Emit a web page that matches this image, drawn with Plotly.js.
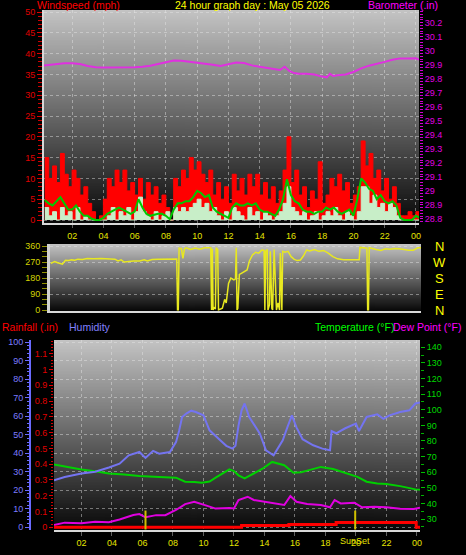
<!DOCTYPE html>
<html><head><meta charset="utf-8">
<script src="https://cdn.plot.ly/plotly-3.0.1.min.js"></script>
<style>html,body{margin:0;padding:0;background:#000;}#chart{width:466px;height:555px;}</style>
</head><body><div id="chart"></div>
<script>
// ---------- DATA ----------
const hourTicks  = [2,4,6,8,10,12,14,16,18,20,22,24];
const hourLabels = ['02','04','06','08','10','12','14','16','18','20','22','00'];

const windTime = [0.25,0.5,0.75,1,1.25,1.5,1.75,2,2.25,2.5,2.75,3,3.25,3.5,3.75,4,4.25,4.5,4.75,5,5.25,5.5,5.75,6,6.25,6.5,6.75,7,7.25,7.5,7.75,8,8.25,8.5,8.75,9,9.25,9.5,9.75,10,10.25,10.5,10.75,11,11.25,11.5,11.75,12,12.25,12.5,12.75,13,13.25,13.5,13.75,14,14.25,14.5,14.75,15,15.25,15.5,15.75,16,16.25,16.5,16.75,17,17.25,17.5,17.75,18,18.25,18.5,18.75,19,19.25,19.5,19.75,20,20.25,20.5,20.75,21,21.25,21.5,21.75,22,22.25,22.5,22.75,23,23.25,23.5,23.75,24,24.25];
const windGust = [15,10,13,9, 16,11,8,12, 10,6,8,4, 2,0,1,5, 10,8,12,9, 12,7,9,6, 10,5,9,6, 8,4,6,3, 0,10,8,12, 10,15,12,14, 11,9,12,6, 9,5,8,4, 11,7,10,6, 11,8,11,6, 9,5,8,4, 7,12,20,9, 12,6,8,3, 7,5,14,4, 6,10,8,11, 7,9,4,6, 8,19,13,16, 10,12,7,10, 5,8,4,1, 1,2,1,2, 3];
const windAvg  = [4.8,4.0,3.5,4.5, 5.5,4.0,2.5,2.5, 3.5,2.0,1.0,1.0, 0.3,0,0,0.5, 1.5,2.0,2.5,3.0, 2.5,2.0,1.5,2.0, 5.0,3.0,1.5,1.0, 1.2,1.5,1.5,1.0, 0.2,2.5,4.0,4.0, 4.5,4.5,5.5,7.0, 6.5,5.5,6.0,3.0, 2.0,1.5,1.0,0.5, 3.0,4.0,3.5,3.5, 4.0,3.5,4.0,2.5, 2.0,2.0,1.5,1.0, 2.5,5.0,9.8,6.0, 4.5,4.0,2.5,2.0, 2.0,1.5,2.0,2.0, 3.0,2.5,3.0,2.0, 1.5,2.0,2.5,1.0, 5.0,10.0,9.0,7.5, 7.0,5.0,6.0,4.5, 4.0,4.5,3.5,0.5, 0,0,0,1.0, 0.5];
const windSpeed= [3,1,2,0, 3,1,2,0, 3,0,1,0, 0,0,0,0, 1,3,0,2, 1,3,0,2, 5.5,2,1,0, 2,0,1,2, 0,3,2,3, 2,3,4,5, 3,4,2,3, 1,0,2,0, 3,2,1,0, 3,1,2,0, 2,1,0,1, 2,4,8,3, 2,1,2,0, 1,2,0,1, 2,1,3,1, 0,2,1,0, 2,8,8,4, 6,3,4,2, 4,3,1,0, 0,0,0,0, 0];

const baroTime = [0.15,0.5,1,1.5,2,2.5,3,3.5,4,4.5,5,5.5,6,6.5,7,7.5,8,8.5,9,9.5,10,10.5,11,11.5,12,12.5,13,13.5,14,14.5,15,15.3,15.6,15.9,16.2,16.5,17,17.5,18,18.3,18.5,18.7,19,19.5,20,20.5,21,21.5,22,22.5,23,23.5,24,24.2];
const baroVal  = [29.893,29.897,29.903,29.91,29.91,29.905,29.89,29.882,29.88,29.88,29.878,29.88,29.882,29.885,29.892,29.905,29.918,29.93,29.928,29.922,29.912,29.905,29.9,29.89,29.9,29.915,29.912,29.895,29.885,29.876,29.868,29.862,29.885,29.855,29.84,29.836,29.835,29.83,29.815,29.81,29.835,29.82,29.825,29.83,29.848,29.874,29.893,29.905,29.92,29.935,29.945,29.945,29.946,29.936];

const dirTime = [0.25,0.35,0.5,0.7,0.9,1.0,1.2,1.4,1.6,1.8,2.0,2.3,2.6,3.0,3.5,4.0,4.4,4.6,4.8,5.0,5.3,5.6,6.0,6.3,6.5,6.8,7.2,7.6,8.0,8.4,8.45,8.5,8.55,8.7,8.8,8.9,9.0,9.3,9.6,9.9,10.2,10.5,10.6,10.65,10.7,10.75,10.8,10.9,10.95,11.0,11.05,11.1,11.2,11.35,11.5,11.6,11.75,11.9,12.1,12.2,12.25,12.3,12.35,12.45,12.55,12.75,12.95,13.1,13.3,13.5,13.7,13.9,14.05,14.1,14.15,14.25,14.3,14.4,14.45,14.55,14.6,14.7,14.8,14.85,14.95,15.05,15.1,15.2,15.25,15.4,15.6,15.8,16.0,16.2,16.4,16.6,16.8,17.0,17.3,17.6,17.9,18.2,18.5,18.8,19.2,19.6,20.0,20.2,20.25,20.5,20.7,20.75,20.8,20.85,21.0,21.3,21.6,21.9,22.2,22.5,22.8,23.1,23.4,23.7,24.0,24.2];
const dirVal  = [262,268,272,266,262,258,280,278,282,280,286,284,290,288,290,290,286,276,282,270,274,276,276,282,276,284,286,287,287,287,0,0,348,345,290,345,350,340,348,342,350,348,350,0,345,0,15,5,350,345,340,0,5,10,60,40,150,180,170,175,350,0,10,200,205,215,225,276,310,325,320,337,335,0,330,340,0,30,330,10,0,340,20,0,40,0,320,0,330,325,330,300,285,278,281,305,338,332,340,330,335,320,300,288,283,283,283,283,352,350,348,0,0,350,348,340,335,345,342,346,345,340,336,336,350,350];
const dirLabels = ['N','W','S','E','N'];
const dirLabelDeg = [360,270,180,90,0];

const humTime = [0.2,0.9,2.0,2.9,3.8,4.5,5.1,5.8,6.2,6.7,7.1,7.8,8.2,8.4,8.6,8.9,9.2,9.5,10.0,10.4,11.1,11.5,11.9,12.1,12.3,12.5,12.7,13.0,13.7,14.1,14.6,15.2,15.5,15.8,16.1,16.5,17.2,17.8,18.3,18.4,18.7,19.3,20.0,20.2,20.7,21.4,21.8,22.2,22.9,23.5,23.9,24.2];
const humVal  = [25.4,27.2,29,30,32.3,34.4,38.9,40.7,37.5,41.3,39.8,40.7,46,52,59.6,61.6,63,62.3,60.5,52.4,47,44,42.5,44,55,63.2,66.9,59.6,50.6,41.6,38.9,47,54,60.5,54,47.6,44.3,42.5,41.6,52,50.8,53.5,56,52,59.6,61,58.6,60.5,62.3,63.2,66.9,67.5];

const tempTime = [0.2,1.0,2.0,3.0,3.8,4.8,5.8,7.1,8.2,8.8,9.4,9.9,10.4,10.8,11.3,11.7,12.0,12.3,12.7,13.3,13.9,14.5,15.3,15.9,16.4,16.8,17.7,18.5,19.2,20.1,20.7,21.4,22.0,22.9,23.9,24.2];
const tempVal  = [65,63.5,61.8,60.5,59.2,58.5,57.6,57,56.5,53.9,53.8,53.2,54,56.5,59.5,61.8,60.7,58,56,59.2,62.4,66.6,64.5,59.6,60,61,63.4,62,59.6,57,53.9,52.8,52.4,51.1,49,48.8];

const dewTime = [0.2,0.9,2.0,2.9,3.8,4.5,5.4,5.8,6.2,6.9,7.5,8.2,8.8,9.4,10.1,10.8,11.7,12.0,12.3,12.9,13.3,13.9,14.6,15.3,15.7,16.1,16.8,17.7,18.3,18.6,19.0,19.9,20.4,21.2,22.0,22.9,23.8,24.2];
const dewVal  = [26.2,27.7,27.3,28.3,28,29.7,32.6,33.2,31.1,32.5,32.5,35.8,39.6,41.1,38.9,36.7,37,36.8,42.2,44.3,42.2,41.1,39.8,39,44.7,41.1,39.6,39,37.5,42.2,40,40.5,37.5,37.8,37.5,36.6,36.4,37.2];

const rainTime = [0.2,12.5,15.6,18.7,23.95,24.2];
const rainVal  = [0,0.012,0.018,0.03,0,0];

const sunEvents = [6.2, 19.95];
const sunLabel = 'SunSet';

// ---------- STYLE ----------
const F = 'Liberation Sans, Arial, sans-serif';
function grad(top, bottom){
  const c = document.createElement('canvas'); c.width = 4; c.height = 256;
  const g = c.getContext('2d'); const lg = g.createLinearGradient(0,0,0,256);
  lg.addColorStop(0, top); lg.addColorStop(1, bottom);
  g.fillStyle = lg; g.fillRect(0,0,4,256); return c.toDataURL();
}
function bgImg(xr, yr){
  return {source: grad('#c4c4c4','#080808'), xref: xr, yref: yr, x:0, y:1, sizex:1, sizey:1,
          sizing:'stretch', xanchor:'left', yanchor:'top', layer:'below'};
}
const GRID = 'rgba(230,230,230,0.45)';
const H = 555, W = 466;

const traces = [
  {x: windTime, y: windGust, xaxis:'x', yaxis:'y', type:'scatter', mode:'lines',
   line:{color:'#ff0000', width:1, shape:'hv'}, fill:'tozeroy', fillcolor:'#ff0000'},
  {x: windTime, y: windSpeed, xaxis:'x', yaxis:'y', type:'scatter', mode:'lines',
   line:{color:'#c8eec8', width:1, shape:'hv'}, fill:'tozeroy', fillcolor:'#c8eec8'},
  {x: windTime, y: windAvg, xaxis:'x', yaxis:'y', type:'scatter', mode:'lines',
   line:{color:'#00c800', width:2}},
  {x: baroTime, y: baroVal, xaxis:'x', yaxis:'y2', type:'scatter', mode:'lines',
   line:{color:'#e030e0', width:2}},
  {x: dirTime, y: dirVal, xaxis:'x2', yaxis:'y3', type:'scatter', mode:'lines',
   line:{color:'#e8e820', width:1.5}},
  {x: humTime, y: humVal, xaxis:'x3', yaxis:'y5', type:'scatter', mode:'lines',
   line:{color:'#7474f0', width:2}},
  {x: tempTime, y: tempVal, xaxis:'x3', yaxis:'y4', type:'scatter', mode:'lines',
   line:{color:'#00d000', width:2}},
  {x: dewTime, y: dewVal, xaxis:'x3', yaxis:'y4', type:'scatter', mode:'lines',
   line:{color:'#e000e0', width:2}},
  {x: rainTime, y: rainVal, xaxis:'x3', yaxis:'y6', type:'scatter', mode:'lines',
   line:{color:'#ff0000', width:3, shape:'hv'}}
];

const tf = (c)=>({family:F, size:9, color:c});
const layout = {
  width:W, height:H, margin:{l:0,r:0,t:0,b:0}, showlegend:false,
  paper_bgcolor:'#000', plot_bgcolor:'rgba(0,0,0,0)',
  font:{family:F, size:9, color:'#ffff00'},
  xaxis:{domain:[44/W,419/W], range:[0.2,24.2], anchor:'y', tickmode:'array', tickvals:hourTicks, ticktext:hourLabels,
    ticks:'outside', ticklen:3, tickcolor:'#606060', tickfont:tf('#e4e400'),
    showgrid:true, gridcolor:GRID, griddash:'dot', showline:true, linecolor:'#d8d8d8', linewidth:2, zeroline:false},
  yaxis:{domain:[1-223/H,1-10/H], range:[-0.72,50.48], anchor:'x', dtick:5, tick0:0,
    ticks:'outside', ticklen:5, tickcolor:'#e00000', tickfont:tf('#e00000'),
    showgrid:true, gridcolor:GRID, griddash:'dot', showline:true, linecolor:'#d8d8d8', linewidth:2, zeroline:false,
    minor:{dtick:1, ticklen:4, tickcolor:'#d00000', ticks:'outside', showgrid:false}},
  yaxis2:{overlaying:'y', side:'right', anchor:'x', range:[28.771,30.29], dtick:0.1, tick0:28.8,
    ticks:'outside', ticklen:3, tickcolor:'#e000e0', tickfont:tf('#e000e0'),
    showgrid:false, zeroline:false, showline:false,
    minor:{dtick:0.02, ticklen:3, tickcolor:'#d000d0', ticks:'outside', showgrid:false}},
  xaxis2:{domain:[50/W,421/W], range:[0.2,24.2], anchor:'y3', showticklabels:false, ticks:'',
    showgrid:false, showline:true, linecolor:'#d8d8d8', linewidth:2, zeroline:false},
  yaxis3:{domain:[1-310.7/H,1-244/H], range:[-3.9,371.3], anchor:'x2', dtick:90, tick0:0,
    ticks:'outside', ticklen:5, tickcolor:'#909000', tickfont:tf('#d4d400'),
    showgrid:true, gridcolor:GRID, griddash:'dot', showline:true, linecolor:'#d0d0d0', linewidth:3, zeroline:false,
    minor:{dtick:30, ticklen:5, tickcolor:'#909000', ticks:'outside', showgrid:false}},
  xaxis3:{domain:[54/W,420/W], range:[0.2,24.2], anchor:'y4', tickmode:'array', tickvals:hourTicks, ticktext:hourLabels,
    ticks:'outside', ticklen:4, tickcolor:'#606060', tickfont:tf('#e4e400'),
    showgrid:true, gridcolor:GRID, griddash:'dot', showline:true, linecolor:'#d8d8d8', linewidth:2, zeroline:false},
  yaxis4:{domain:[1-529.5/H,1-340/H], range:[23.3,144.7], anchor:'x3', side:'right', dtick:10, tick0:0,
    ticks:'outside', ticklen:4, tickcolor:'#00c000', tickfont:tf('#00d800'),
    showgrid:false, zeroline:false, showline:false,
    minor:{dtick:5, ticklen:3, tickcolor:'#00b000', ticks:'outside', showgrid:false}},
  yaxis5:{overlaying:'y4', anchor:'free', position:30/W, side:'left', range:[-1.2,101.2], dtick:10, tick0:0,
    ticks:'outside', ticklen:4, tickcolor:'#6a6aff', tickfont:tf('#7c7cff'),
    showgrid:true, gridcolor:GRID, griddash:'dot', zeroline:false, showline:true, linecolor:'#6a6aff', linewidth:2,
    minor:{dtick:2, ticklen:2, tickcolor:'#6a6aff', ticks:'outside', showgrid:false}},
  yaxis6:{overlaying:'y4', anchor:'x3', side:'left', range:[-0.014,1.187], dtick:0.1, tick0:0,
    ticks:'outside', ticklen:4, tickcolor:'#e00000', tickfont:tf('#e00000'),
    showgrid:false, zeroline:false, showline:false,
    minor:{dtick:0.02, ticklen:2, tickcolor:'#d00000', ticks:'outside', showgrid:false}},
  images:[bgImg('x domain','y domain'), bgImg('x2 domain','y3 domain'), bgImg('x3 domain','y4 domain')],
  shapes: sunEvents.map(t=>({type:'line', xref:'x3', yref:'y4 domain', x0:t, x1:t, y0:0, y1:0.1,
    line:{color:'#d0c000', width:2}})),
  annotations: []
};

const ann = layout.annotations;
function txt(t, x, y, color, xa, size){
  ann.push({text:t, x:x, y:y, xref:'paper', yref:'paper', xanchor:xa||'left', yanchor:'middle',
    showarrow:false, font:{family:F, size:size||10.5, color:color}});
}
txt('Windspeed (mph)', 35/W, 1-5/H, '#ff0000');
txt('24 hour graph day : May 05 2026', 173/W, 1-5/H, '#ffff00');
txt('Barometer (.in)', 440/W, 1-5/H, '#ff00ff', 'right');
txt('Rainfall (.in)', 0, 1-327/H, '#ff0000');
txt('Humidity', 67/W, 1-327/H, '#8080ff');
txt('Temperature (°F)', 313/W, 1-327/H, '#00ff00');
txt('Dew Point (°F)', 463/W, 1-327/H, '#ff00ff', 'right');
dirLabels.forEach((l,i)=>ann.push({text:l, x:439/W, y:dirLabelDeg[i], xref:'paper', yref:'y3',
  xanchor:'center', yanchor:'middle', showarrow:false, font:{family:F, size:13, color:'#ffff00'}}));
ann.push({text:sunLabel, x:sunEvents[1], y:1-541/H, xref:'x3', yref:'paper', xanchor:'center', yanchor:'middle',
  showarrow:false, font:{family:F, size:9, color:'#e4e400'}});

Plotly.newPlot('chart', traces, layout, {displayModeBar:false, staticPlot:true});
</script></body></html>
